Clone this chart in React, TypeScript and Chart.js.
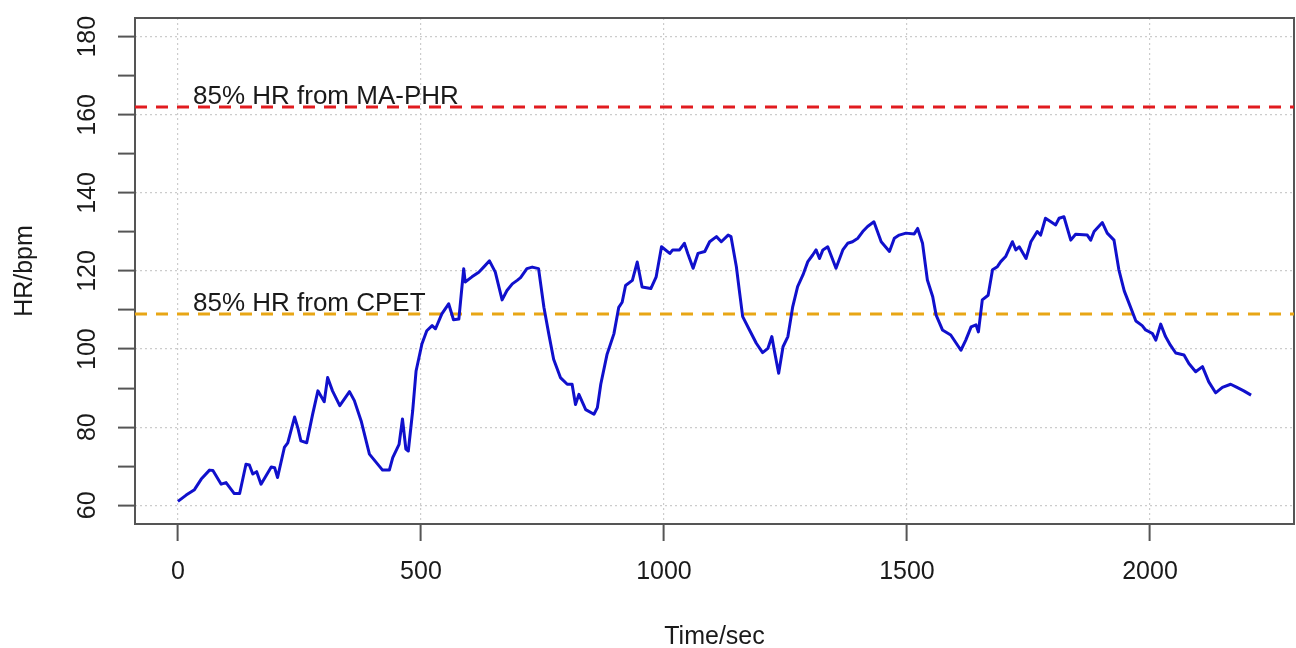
import React, { useEffect, useRef } from "react";
import { Chart, registerables } from "chart.js";

Chart.register(...registerables);

// Heart-rate trace (seconds, bpm)
const timeSec = [
  0, 17, 34, 48, 65, 72, 89, 99, 116, 127, 140, 147, 154, 162, 171, 192, 199, 205, 219, 226,
  240, 247, 253, 265, 277, 288, 301, 308, 318, 333, 353, 363, 377, 394, 421, 435, 442, 455, 462, 469,
  474, 483, 490, 502, 512, 523, 530, 543, 557, 567, 578, 588, 591, 605, 619, 629, 641, 653, 667, 677,
  688, 698, 705, 718, 729, 742, 753, 763, 773, 787, 801, 811, 818, 825, 839, 856, 863, 870, 883, 897,
  907, 914, 921, 935, 945, 955, 973, 984, 995, 1012, 1018, 1032, 1042, 1049, 1060, 1070, 1084, 1094, 1108, 1118,
  1132, 1138, 1149, 1155, 1162, 1176, 1190, 1203, 1214, 1222, 1227, 1236, 1245, 1255, 1265, 1275, 1286, 1296, 1306, 1313,
  1320, 1327, 1337, 1354, 1368, 1378, 1388, 1399, 1409, 1419, 1432, 1447, 1464, 1474, 1484, 1498, 1515, 1522, 1532, 1542,
  1553, 1560, 1573, 1590, 1611, 1621, 1632, 1642, 1647, 1655, 1667, 1676, 1686, 1693, 1703, 1717, 1724, 1731, 1745, 1755,
  1768, 1775, 1785, 1796, 1806, 1813, 1823, 1837, 1847, 1871, 1878, 1885, 1902, 1912, 1926, 1936, 1947, 1957, 1971, 1984,
  1991, 2005, 2012, 2022, 2032, 2042, 2053, 2070, 2080, 2094, 2108, 2121, 2135, 2149, 2166, 2179, 2193, 2208,
];
const heartRate = [
  61, 62.6, 64, 66.7, 69, 68.9, 65.4, 65.8, 63, 63, 70.5, 70.3, 68, 68.6, 65.4, 69.8, 69.6, 67.1, 74.8, 76,
  82.6, 79.7, 76.5, 76, 83.2, 89.3, 86.5, 92.7, 89.3, 85.5, 89.1, 86.8, 81.6, 73.1, 69, 69, 72.2, 75.6, 82.1, 74.4,
  73.9, 84.2, 94.4, 101.3, 104.7, 106, 105.2, 109, 111.6, 107.5, 107.7, 120.6, 117.2, 118.5, 119.7, 121, 122.6, 119.7, 112.6, 115,
  116.7, 117.6, 118.3, 120.6, 121, 120.6, 110.7, 103.9, 97.4, 92.7, 91, 91, 85.8, 88.4, 84.5, 83.3, 85, 91, 98.7, 103.9,
  110.7, 112, 116.3, 117.6, 122.3, 115.9, 115.5, 118.5, 126.2, 124.5, 125.4, 125.4, 127.1, 124.5, 120.7, 124.5, 125, 127.5, 128.8, 127.5,
  129.2, 128.8, 121.1, 115.1, 108.3, 104.9, 101.5, 99.1, 100.2, 103.2, 99.7, 93.8, 100.6, 103.2, 110.9, 116, 119, 122.4, 124.1, 125.4,
  123.2, 125.4, 126.2, 120.7, 125.4, 127.1, 127.5, 128.4, 130.1, 131.4, 132.6, 127.5, 125, 128.4, 129.2, 129.7, 129.5, 130.9, 127.1, 117.7,
  113.4, 108.7, 104.9, 103.6, 99.7, 102.3, 105.7, 106.2, 104.4, 112.6, 113.8, 120.3, 121.1, 122.4, 123.7, 127.5, 125.4, 126.2, 123.2, 127.5,
  130.1, 129.2, 133.5, 132.6, 131.8, 133.5, 133.9, 127.9, 129.4, 129.2, 127.9, 130.1, 132.4, 129.7, 127.9, 120.3, 114.9, 111.7, 107.2, 106,
  104.9, 104, 102.3, 106.4, 103.2, 101, 99, 98.5, 96.3, 94.2, 95.5, 91.6, 88.8, 90.2, 91, 90.2, 89.3, 88.2,
];

// Reference levels (85% HR thresholds)
const refLevels = [162, 109];
const refLabels = ["85% HR from MA-PHR", "85% HR from CPET"];
const refColors = ["#E11B1F", "#E8A615"];
const refLabelX = 31;

// Axis ticks and limits
const xTickValues = [0, 500, 1000, 1500, 2000];
const yTickValues = [60, 70, 80, 90, 100, 110, 120, 130, 140, 150, 160, 170, 180];
const yLabelValues = [60, 80, 100, 120, 140, 160, 180];
const yLimits = [60, 180];

const FONT = '"Liberation Sans", Arial, sans-serif';
const TEXT = "#1a1a1a";
const AXIS = "#555555";
const GRID = "#cccccc";

export default function App() {
  const ref = useRef<HTMLCanvasElement | null>(null);

  useEffect(() => {
    document.body.style.margin = "0";
    const canvas = ref.current;
    if (!canvas) return;

    const tMin = Math.min(...timeSec);
    const tMax = Math.max(...timeSec);
    const xPad = (tMax - tMin) * 0.04;
    const xMin = tMin - xPad;
    const xMax = tMax + xPad;
    const yPad = (yLimits[1] - yLimits[0]) * 0.04;
    const yMin = yLimits[0] - yPad;
    const yMax = yLimits[1] + yPad;

    const hrData = timeSec.map((t, i) => ({ x: t, y: heartRate[i] }));

    const refDatasets = refLevels.map((lvl, i) => ({
      label: refLabels[i],
      data: [
        { x: xMin, y: lvl },
        { x: xMax, y: lvl },
      ],
      borderColor: refColors[i],
      borderWidth: 3,
      borderDash: [12, 9],
      pointRadius: 0,
      fill: false,
    }));

    const overlay = {
      id: "overlay",
      beforeDatasetsDraw(chart: any) {
        const { ctx, chartArea: a } = chart;
        ctx.save();
        ctx.strokeStyle = AXIS;
        ctx.lineWidth = 2;
        ctx.strokeRect(a.left, a.top, a.right - a.left, a.bottom - a.top);
        ctx.restore();
      },
      afterDatasetsDraw(chart: any) {
        const { ctx } = chart;
        const xs = chart.scales.x;
        const ys = chart.scales.y;
        ctx.save();
        ctx.font = `26px ${FONT}`;
        ctx.fillStyle = TEXT;
        ctx.textAlign = "left";
        ctx.textBaseline = "alphabetic";
        refLevels.forEach((lvl, i) => {
          ctx.fillText(refLabels[i], xs.getPixelForValue(refLabelX), ys.getPixelForValue(lvl) - 3);
        });
        ctx.restore();
      },
    };

    const chart = new Chart(canvas, {
      type: "line",
      data: {
        datasets: [
          {
            label: "HR",
            data: hrData,
            borderColor: "#1010CC",
            borderWidth: 3,
            pointRadius: 0,
            tension: 0,
            fill: false,
            borderJoinStyle: "round",
          } as any,
          ...refDatasets,
        ],
      },
      options: {
        responsive: false,
        animation: false,
        devicePixelRatio: 1,
        layout: { padding: { top: 18, right: 2, left: 0, bottom: 0 } },
        plugins: {
          legend: { display: false },
          tooltip: { enabled: false },
        },
        scales: {
          x: {
            type: "linear",
            min: xMin,
            max: xMax,
            afterBuildTicks: (s: any) => {
              s.ticks = xTickValues.map((v) => ({ value: v }));
            },
            afterFit: (s: any) => {
              s.height = 124;
              s.paddingLeft = 0;
              s.paddingRight = 0;
            },
            ticks: {
              autoSkip: false,
              maxRotation: 0,
              minRotation: 0,
              padding: 16,
              color: TEXT,
              font: { family: FONT, size: 25 },
              callback: (v: any) => String(v),
            },
            grid: {
              color: GRID,
              lineWidth: 1.2,
              tickColor: AXIS,
              tickLength: 17,
              tickWidth: 2,
              tickBorderDash: [],
            },
            border: { display: false, dash: [2, 3] },
            title: {
              display: true,
              text: "Time/sec",
              color: TEXT,
              font: { family: FONT, size: 25, lineHeight: 0.9 },
              padding: { top: 0, bottom: 0 },
            },
          },
          y: {
            type: "linear",
            min: yMin,
            max: yMax,
            afterBuildTicks: (s: any) => {
              s.ticks = yTickValues.map((v) => ({ value: v }));
            },
            afterFit: (s: any) => {
              s.width = 135;
              s.paddingTop = 0;
              s.paddingBottom = 0;
            },
            ticks: {
              autoSkip: false,
              minRotation: 90,
              maxRotation: 90,
              crossAlign: "center",
              padding: 9,
              color: TEXT,
              font: { family: FONT, size: 25 },
              callback: (v: any) => (yLabelValues.includes(Number(v)) ? String(v) : ""),
            },
            grid: {
              color: (c: any) =>
                c.tick && yLabelValues.includes(Number(c.tick.value)) ? GRID : "rgba(0,0,0,0)",
              lineWidth: 1.2,
              tickColor: AXIS,
              tickLength: 17,
              tickWidth: 2,
              tickBorderDash: [],
            },
            border: { display: false, dash: [2, 3] },
            title: {
              display: true,
              text: "HR/bpm",
              color: TEXT,
              font: { family: FONT, size: 25 },
              padding: { top: 10, bottom: 0 },
            },
          },
        },
      } as any,
      plugins: [overlay],
    });

    return () => chart.destroy();
  }, []);

  return (
    <div style={{ width: 1296, height: 648 }}>
      <canvas ref={ref} width={1296} height={648} style={{ display: "block" }} />
    </div>
  );
}
